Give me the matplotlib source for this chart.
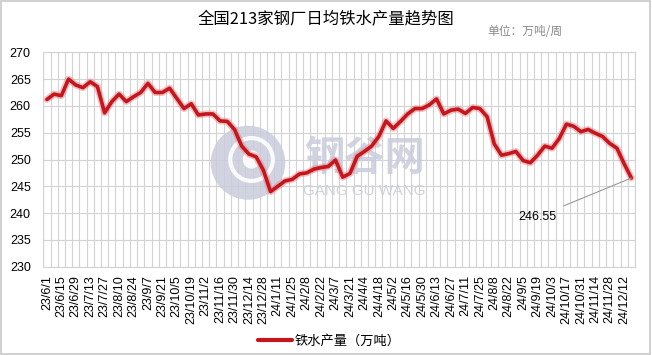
"""Weekly hot-metal output of 213 steel mills (recreated chart)."""

import matplotlib

matplotlib.use("Agg")
import matplotlib.pyplot as plt
from matplotlib.patches import Ellipse, Rectangle
import numpy as np
import pandas as pd

plt.rcParams["font.family"] = ["Liberation Sans", "Noto Sans CJK SC"]

# weekly dates, 23/6/1 .. 24/12/19
weeks = pd.date_range("2023-06-01", periods=82, freq="7D")
week_labels = [f"{d.year % 100}/{d.month}/{d.day}" for d in weeks]

hot_metal = [
    261.2, 262.2, 261.9, 265.0, 263.9, 263.4, 264.5, 263.6, 258.7, 260.8,
    262.2, 260.8, 261.7, 262.5, 264.2, 262.5, 262.5, 263.3, 261.4, 259.5,
    260.4, 258.3, 258.5, 258.5, 257.2, 257.1, 255.6, 252.5, 251.0, 250.5,
    248.0, 244.0, 245.0, 246.0, 246.3, 247.3, 247.5, 248.2, 248.5, 248.7,
    249.9, 246.7, 247.4, 250.6, 251.5, 252.5, 254.3, 257.2, 255.8, 257.1,
    258.5, 259.5, 259.5, 260.2, 261.3, 258.5, 259.2, 259.4, 258.6, 259.7,
    259.5, 258.0, 252.9, 250.8, 251.1, 251.5, 249.8, 249.4, 250.8, 252.5,
    252.1, 253.9, 256.6, 256.2, 255.2, 255.6, 254.9, 254.3, 253.0, 252.1,
    249.2, 246.55,
]

title = "全国213家钢厂日均铁水产量趋势图"
unit_text = "单位：万吨/周"
series_name = "铁水产量（万吨）"
y_ticks = [230, 235, 240, 245, 250, 255, 260, 265, 270]

GRID = "#d3d3d3"
RED = "#c4161c"

fig = plt.figure(figsize=(6.52, 3.55), dpi=100)
ax = fig.add_axes([0.0664, 0.2487, 0.9075, 0.604])

x = np.arange(len(hot_metal))

# watermark logo + name, kept behind the line
wm = "#c9ccdb"
ax.add_patch(Ellipse((0.346, 0.485), 0.126, 0.345, transform=ax.transAxes,
                     fc=wm, ec="none", alpha=0.85, zorder=1))
ax.add_patch(Ellipse((0.352, 0.50), 0.072, 0.20, transform=ax.transAxes,
                     fill=False, ec="white", lw=3, alpha=0.9, zorder=1))
ax.add_patch(Ellipse((0.352, 0.50), 0.03, 0.085, transform=ax.transAxes,
                     fc="white", ec="none", alpha=0.9, zorder=1))
ax.text(0.543, 0.505, "钢谷网", transform=ax.transAxes, ha="center", va="center",
        fontsize=29, fontweight="bold", color=wm, alpha=0.85,
        family="Noto Sans CJK SC", zorder=1)
ax.text(0.542, 0.355, "GANG GU WANG", transform=ax.transAxes, ha="center", va="center",
        fontsize=11, color=wm, alpha=0.85, zorder=1)

ax.plot(x, hot_metal, color="#e8787c", lw=5.0, alpha=0.45, zorder=3,
        solid_joinstyle="round", solid_capstyle="round")
ax.plot(x, hot_metal, color=RED, lw=2.6, zorder=4,
        solid_joinstyle="round", solid_capstyle="round", label=series_name)

ax.set_xlim(-0.5, len(hot_metal) - 0.5)
ax.set_ylim(230, 270)
ax.set_yticks(y_ticks)
ax.set_xticks(x[::2])
ax.set_xticklabels(week_labels[::2], rotation=90, fontsize=9)
ax.set_xticks(np.arange(-0.5, len(hot_metal), 1), minor=True)
ax.tick_params(axis="x", which="both", length=0, pad=6)
ax.tick_params(axis="y", length=0, labelsize=9, pad=9)
ax.grid(axis="x", which="minor", color=GRID, lw=0.8)
ax.grid(axis="y", which="major", color=GRID, lw=0.8)
ax.set_axisbelow(True)
for s in ax.spines.values():
    s.set_color(GRID)
    s.set_linewidth(0.8)

# last value callout
last_i = len(hot_metal) - 1
ax.annotate(f"{hot_metal[-1]:.2f}", xy=(last_i, hot_metal[-1]), xytext=(-6.0, -3.1),
            textcoords="offset fontsize", ha="right", va="center", fontsize=9,
            arrowprops=dict(arrowstyle="-", color="#999999", lw=0.8,
                            shrinkA=4, shrinkB=0), zorder=5)

fig.text(0.5, 0.945, title, ha="center", va="center", fontsize=11.8,
         family="Noto Sans CJK SC")
fig.text(0.805, 0.912, unit_text, ha="center", va="center", fontsize=8.5,
         color="#8a8a8a", family="Noto Sans CJK SC")

leg = fig.legend(loc="center", bbox_to_anchor=(0.505, 0.038), frameon=False,
                 prop={"family": "Noto Sans CJK SC", "size": 9.5},
                 handlelength=2.6, handletextpad=0.2)
for h in leg.get_lines():
    h.set_linewidth(3)

fig.patches.append(Rectangle((0.002, 0.004), 0.995, 0.992, transform=fig.transFigure,
                             fill=False, ec="#c8c8c8", lw=1.2))

fig.savefig("out.png", dpi=100)
